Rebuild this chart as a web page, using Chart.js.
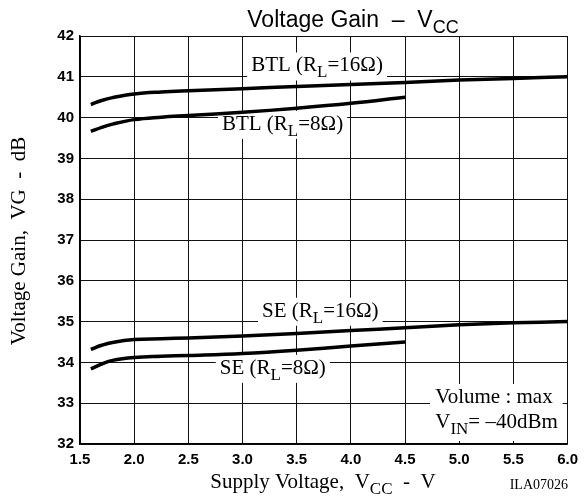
<!DOCTYPE html>
<html>
<head>
<meta charset="utf-8">
<script src="https://cdn.jsdelivr.net/npm/chart.js@4"></script>
<style>
  html, body { margin: 0; padding: 0; background: #fff; }
  #wrap { width: 585px; height: 499px; }
</style>
</head>
<body>
<div id="wrap"><canvas id="myChart" width="585" height="499"></canvas></div>
<script>
// supply voltage points (V)
const vccLong = [1.6, 1.7, 1.8, 2.0, 2.25, 2.5, 3.0, 3.5, 4.0, 4.5, 5.0, 5.5, 6.0];
const vccShort = [1.6, 1.7, 1.8, 2.0, 2.25, 2.5, 3.0, 3.5, 4.0, 4.5];

// voltage gain (dB)
const btl16 = [40.32, 40.42, 40.49, 40.58, 40.63, 40.66, 40.71, 40.76, 40.81, 40.86, 40.92, 40.96, 41.0];
const btl8 = [39.66, 39.76, 39.84, 39.95, 40.01, 40.05, 40.13, 40.23, 40.35, 40.5];
const se16 = [34.32, 34.42, 34.49, 34.56, 34.58, 34.60, 34.65, 34.71, 34.78, 34.85, 34.92, 34.97, 35.0];
const se8 = [33.84, 33.96, 34.05, 34.12, 34.15, 34.17, 34.22, 34.30, 34.40, 34.5];

const xTicks = [1.5, 2.0, 2.5, 3.0, 3.5, 4.0, 4.5, 5.0, 5.5, 6.0];
const yTicks = [32, 33, 34, 35, 36, 37, 38, 39, 40, 41, 42];

const SERIF = '"Liberation Serif", "Times New Roman", serif';
const SANS = '"Liberation Sans", Arial, sans-serif';
const LBL = 21;

function pts(xs, ys) {
  return xs.map((x, i) => ({ x: x, y: ys[i] }));
}

// draw text made of parts, some of them subscript
function richText(ctx, parts, x, y, size, font, align) {
  const subSize = Math.round(size * 0.8);
  let w = 0;
  parts.forEach(p => {
    ctx.font = (p.sub ? subSize : size) + 'px ' + font;
    w += ctx.measureText(p.t).width;
  });
  let cx = align === 'center' ? x - w / 2 : (align === 'right' ? x - w : x);
  ctx.textAlign = 'left';
  ctx.textBaseline = 'alphabetic';
  parts.forEach(p => {
    ctx.font = (p.sub ? subSize : size) + 'px ' + font;
    ctx.fillText(p.t, cx, p.sub ? y + size * 0.28 : y);
    cx += ctx.measureText(p.t).width;
  });
  return w;
}

function richWidth(ctx, parts, size, font) {
  let w = 0;
  parts.forEach(p => {
    ctx.font = (p.sub ? Math.round(size * 0.8) : size) + 'px ' + font;
    w += ctx.measureText(p.t).width;
  });
  return w;
}

const labels = [
  { x: 3.08, y: 41.13, parts: [{ t: 'BTL (R' }, { t: 'L', sub: true }, { t: '=16\u03A9)' }] },
  { x: 2.81, y: 39.7, parts: [{ t: 'BTL (R' }, { t: 'L', sub: true }, { t: '=8\u03A9)' }] },
  { x: 3.18, y: 35.12, parts: [{ t: 'SE (R' }, { t: 'L', sub: true }, { t: '=16\u03A9)' }] },
  { x: 2.79, y: 33.72, parts: [{ t: 'SE (R' }, { t: 'L', sub: true }, { t: '=8\u03A9)' }] }
];

const textPlugin = {
  id: 'texts',
  beforeDatasetsDraw(chart) {
    const ctx = chart.ctx;
    const xs = chart.scales.x, ys = chart.scales.y;
    ctx.save();
    ctx.fillStyle = '#fff';
    labels.forEach(l => {
      const px = xs.getPixelForValue(l.x), py = ys.getPixelForValue(l.y);
      const w = richWidth(ctx, l.parts, LBL, SERIF);
      ctx.fillRect(px - 4, py - 19, w + 8, 28);
    });
    // volume box
    const bx = xs.getPixelForValue(4.73);
    const by = ys.getPixelForValue(33.47);
    ctx.fillRect(bx, by, chart.chartArea.right - bx - 5, chart.chartArea.bottom - by - 3);
    ctx.restore();
  },
  afterDatasetsDraw(chart) {
    const ctx = chart.ctx;
    const xs = chart.scales.x, ys = chart.scales.y;
    const area = chart.chartArea;
    ctx.save();
    ctx.fillStyle = '#000';
    labels.forEach(l => {
      richText(ctx, l.parts, xs.getPixelForValue(l.x), ys.getPixelForValue(l.y), LBL, SERIF, 'left');
    });
    const bx = xs.getPixelForValue(4.76);
    richText(ctx, [{ t: 'Volume : max' }], bx + 2, ys.getPixelForValue(33.0), LBL, SERIF, 'left');
    richText(ctx, [{ t: 'V' }, { t: 'IN', sub: true }, { t: '= \u201340dBm' }], bx + 2, ys.getPixelForValue(32.4), LBL, SERIF, 'left');

    // title
    richText(ctx, [{ t: 'Voltage Gain  \u2013  V' }, { t: 'CC', sub: true }], 353, 27, 23, SANS, 'center');
    // x axis title
    richText(ctx, [{ t: 'Supply Voltage,  V' }, { t: 'CC', sub: true }, { t: '  -  V' }], 323, 488, 21, SERIF, 'center');
    richText(ctx, [{ t: 'ILA07026' }], 568, 489, 14, SERIF, 'right');
    // y axis title
    ctx.translate(25, (area.top + area.bottom) / 2 + 1);
    ctx.rotate(-Math.PI / 2);
    richText(ctx, [{ t: 'Voltage Gain,  VG  -  dB' }], 0, 0, 21, SERIF, 'center');
    ctx.restore();
  }
};

const lineStyle = {
  borderColor: '#000',
  borderWidth: 3.5,
  pointRadius: 0,
  fill: false,
  tension: 0.4
};

const ctx = document.getElementById('myChart');
const config = {
  type: 'line',
  data: {
    datasets: [
      Object.assign({ label: 'BTL 16', data: pts(vccLong, btl16) }, lineStyle),
      Object.assign({ label: 'BTL 8', data: pts(vccShort, btl8) }, lineStyle),
      Object.assign({ label: 'SE 16', data: pts(vccLong, se16) }, lineStyle),
      Object.assign({ label: 'SE 8', data: pts(vccShort, se8) }, lineStyle)
    ]
  },
  options: {
    responsive: false,
    animation: false,
    layout: { padding: { top: 36, right: 15, left: 0, bottom: 0 } },
    plugins: {
      legend: { display: false },
      tooltip: { enabled: false }
    },
    scales: {
      x: {
        type: 'linear',
        min: 1.5,
        max: 6.0,
        afterBuildTicks: s => { s.ticks = xTicks.map(v => ({ value: v })); },
        afterFit: s => { s.height = 499 - 444; },
        grid: { color: '#111', lineWidth: 1, drawTicks: false },
        border: { color: '#000', width: 1.5 },
        ticks: {
          color: '#000',
          padding: 7,
          font: { family: SANS, size: 15, weight: 'bold' },
          callback: v => v.toFixed(1)
        }
      },
      y: {
        min: 32,
        max: 42,
        afterBuildTicks: s => { s.ticks = yTicks.map(v => ({ value: v })); },
        afterFit: s => { s.width = 80; },
        grid: { color: '#111', lineWidth: 1, drawTicks: false },
        border: { color: '#000', width: 1.5 },
        ticks: {
          color: '#000',
          padding: 6,
          font: { family: SANS, size: 15, weight: 'bold' }
        }
      }
    }
  },
  plugins: [textPlugin]
};

new Chart(ctx, config);
</script>
</body>
</html>
